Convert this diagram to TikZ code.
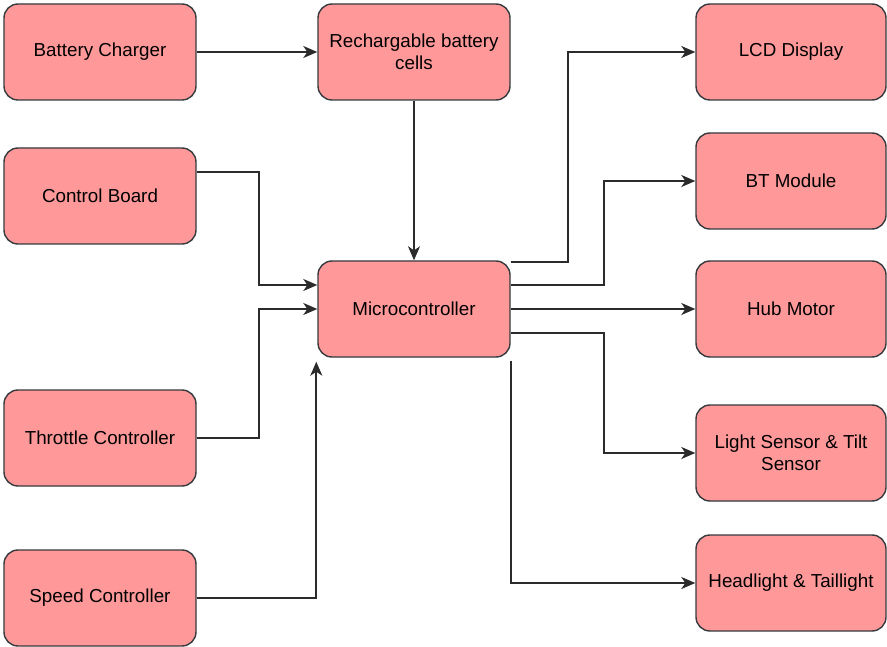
\documentclass[tikz,border=0pt]{standalone}
\usepackage{fontspec}
\setmainfont{Liberation Sans}
\usetikzlibrary{arrows.meta}
\definecolor{boxfill}{HTML}{FF9999}
\definecolor{boxline}{HTML}{36393D}
\definecolor{wire}{HTML}{2B2B2B}
\tikzset{
    block/.style={draw=boxline, fill=boxfill, line width=1.4pt, rounded corners=14pt,
        minimum width=192pt, minimum height=96pt, align=center,
        font=\fontsize{18.8}{22}\selectfont},
    conn/.style={draw=wire, line width=1.7pt, -{Stealth[length=14pt,width=12pt,inset=4pt]}}
}
\begin{document}
\begin{tikzpicture}[x=1pt,y=-1pt]
        \useasboundingbox (0,0) rectangle (887,647);
        \node[block] (charger) at (100,52) {Battery Charger};
        \node[block] (control) at (100,196) {Control Board};
        \node[block] (throttle) at (100,438) {Throttle Controller};
        \node[block] (speed) at (100,598) {Speed Controller};
        \node[block] (cells) at (414,52) {Rechargable battery\\cells};
        \node[block] (mcu) at (414,309) {Microcontroller};
        \node[block, minimum width=190pt] (lcd) at (791,52) {LCD Display};
        \node[block, minimum width=190pt] (bt) at (791,181) {BT Module};
        \node[block, minimum width=190pt] (hub) at (791,309) {Hub Motor};
        \node[block, minimum width=190pt] (light) at (791,453) {Light Sensor \& Tilt\\Sensor};
        \node[block, minimum width=190pt] (head) at (791,583) {Headlight \& Taillight};
        \draw[conn] (charger) -- (cells);
        \draw[conn] (cells) -- (mcu);
        \draw[conn] ([yshift=24pt]control.east) -- ++(62,0) |- ([yshift=24pt]mcu.west);
        \draw[conn] (throttle.east) -- ++(62,0) |- (mcu.west);
        \draw[conn] (speed.east) -| ([xshift=-1pt,yshift=-4pt]mcu.south west);
        \draw[conn] ([yshift=47pt]mcu.east) -- ++(57,0) |- (lcd.west);
        \draw[conn] ([yshift=24pt]mcu.east) -- ++(93,0) |- (bt.west);
        \draw[conn] (mcu) -- (hub);
        \draw[conn] ([yshift=-24pt]mcu.east) -- ++(93,0) |- (light.west);
        \draw[conn] ([yshift=-3pt]mcu.south east) |- (head.west);
\end{tikzpicture}
\end{document}
